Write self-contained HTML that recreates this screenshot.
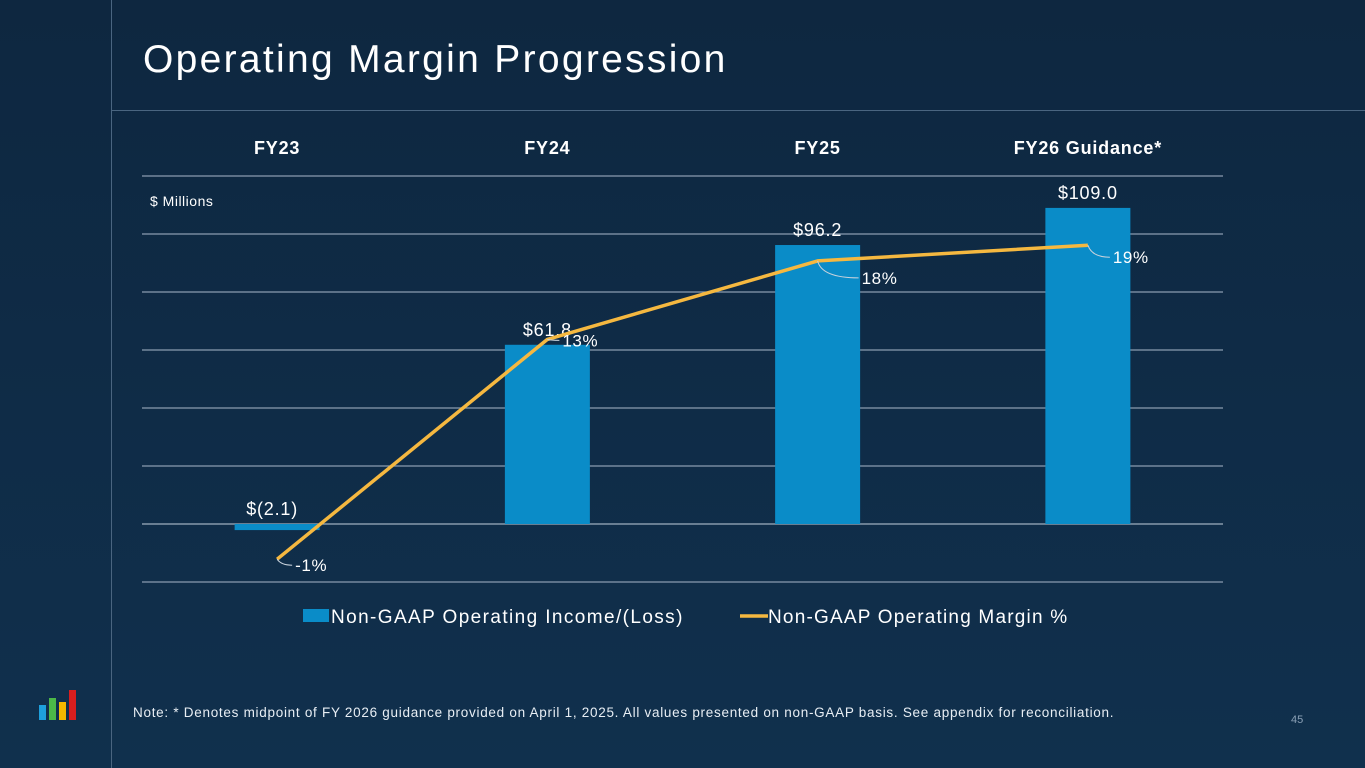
<!DOCTYPE html>
<html><head><meta charset="utf-8"><style>
body{margin:0;width:1365px;height:768px;overflow:hidden;background:linear-gradient(180deg,#0e2740 0%,#10304d 100%);font-family:"Liberation Sans",sans-serif;position:relative}
.t{position:absolute;color:#fff;white-space:nowrap}
</style></head><body>
<div style="position:absolute;left:111px;top:0;width:1px;height:768px;background:#4a6580"></div>
<div style="position:absolute;left:111px;top:110px;width:1254px;height:1px;background:#4a6580"></div>
<div class="t" style="left:143px;top:38px;font-size:39px;letter-spacing:2.3px">Operating Margin Progression</div>
<svg width="1365" height="768" style="position:absolute;left:0;top:0" id="c"></svg>
<div class="t" style="left:133px;top:705px;font-size:13.5px;letter-spacing:0.72px;color:#e8eef4">Note: * Denotes midpoint of FY 2026 guidance provided on April 1, 2025. All values presented on non-GAAP basis. See appendix for reconciliation.</div>
<div class="t" style="left:1291px;top:714px;font-size:11px;color:#8aa0b5">45</div>
<div style="position:absolute;left:39px;top:690px;width:40px;height:30px">
<div style="position:absolute;left:0;bottom:0;width:7px;height:15px;background:#1ea0dc"></div>
<div style="position:absolute;left:10px;bottom:0;width:7px;height:22px;background:#4cb848"></div>
<div style="position:absolute;left:20px;bottom:0;width:7px;height:18px;background:#f5b800"></div>
<div style="position:absolute;left:30px;bottom:0;width:7px;height:30px;background:#d81e1e"></div>
</div>
<script>
const categories=["FY23","FY24","FY25","FY26 Guidance*"];
const incomeValues=[-2.1,61.8,96.2,109.0];
const incomeLabels=["$(2.1)","$61.8","$96.2","$109.0"];
const marginValues=[-1,13,18,19];
const marginLabels=["-1%","13%","18%","19%"];
const gridTicks=[120,100,80,60,40,20,0,-20];
const NS="http://www.w3.org/2000/svg",s=document.getElementById('c');
const L=142,R=1223,bw=(R-L)/categories.length;
const xc=i=>L+bw*(i+0.5);
const y=v=>524-v*2.9;
const yp=p=>543.5-p*15.7;
function mk(t,a,txt){const e=document.createElementNS(NS,t);for(const k in a)e.setAttribute(k,a[k]);if(txt!=null)e.textContent=txt;s.appendChild(e);return e;}
gridTicks.forEach(v=>{const g=mk('line',{x1:L,x2:R,y1:y(v),y2:y(v),stroke:v===0?'#9fb0c0':'#8a9cb0','stroke-width':1.3});

});
categories.forEach((c,i)=>{const t=mk('text',{x:xc(i),y:154,fill:'#fff','font-size':18,'font-weight':'bold','text-anchor':'middle','letter-spacing':0.8},c);

});
const u=mk('text',{x:150,y:206,fill:'#fff','font-size':14,'letter-spacing':0.5},'$ Millions');


incomeValues.forEach((v,i)=>{const top=Math.min(y(v),y(0)),h=Math.abs(y(v)-y(0));
const b=mk('rect',{x:xc(i)-42.5,y:top,width:85,height:Math.max(h,1),fill:'#0a8cc8'});


const t=mk('text',{x:xc(i)-(v<0?5:0),y:(v<0?y(0):y(v))-9,fill:'#fff','font-size':18,'text-anchor':'middle','letter-spacing':0.8},incomeLabels[i]);

});
const pts=marginValues.map((p,i)=>[xc(i),yp(p)]);
const pl=mk('polyline',{points:pts.map(p=>p.join(',')).join(' '),fill:'none',stroke:'#f5b840','stroke-width':3.5,'stroke-linejoin':'round'});


const lblDx=[18,15,44,25],lblDy=[6,1,17,12];
pts.forEach((p,i)=>{const ly=p[1]+lblDy[i],lx=p[0]+lblDx[i];
mk('path',{d:`M${p[0]} ${p[1]} Q${p[0]+4} ${ly} ${lx-3} ${ly}`,stroke:'#c8d2dc',fill:'none','stroke-width':1});
const t=mk('text',{x:lx,y:ly+6,fill:'#fff','font-size':17,'letter-spacing':0.6},marginLabels[i]);

});
const l1=mk('rect',{x:303,y:609,width:26,height:13,fill:'#0a8cc8'});


const t1=mk('text',{x:331,y:623,fill:'#fff','font-size':19,'letter-spacing':1.4},'Non-GAAP Operating Income/(Loss)');


const l2=mk('line',{x1:740,x2:768,y1:616,y2:616,stroke:'#f5b840','stroke-width':3.5});


const t2=mk('text',{x:768,y:623,fill:'#fff','font-size':19,'letter-spacing':1.2},'Non-GAAP Operating Margin %');


</script>
</body></html>
